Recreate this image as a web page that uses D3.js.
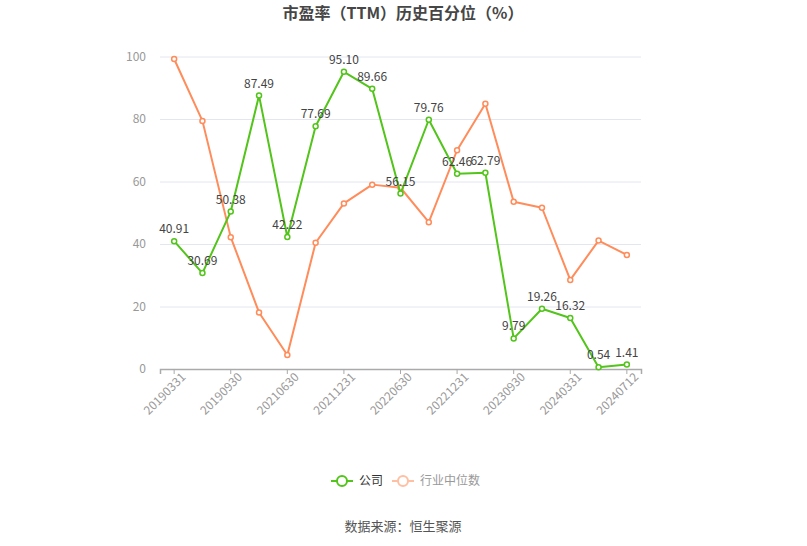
<!DOCTYPE html>
<html><head><meta charset="utf-8">
<script src="https://cdn.jsdelivr.net/npm/d3@7"></script>
<style>body{margin:0;background:#fff}svg{display:block;font-family:"Microsoft YaHei","Noto Sans CJK SC",sans-serif}</style>
</head><body><svg id="c" width="807" height="546"></svg>
<script>
const categories = ["20190331","20190630","20190930","20201231","20210630","20210930","20211231","20220331","20220630","20220930","20221231","20230630","20230930","20231231","20240331","20240630","20240712"];
const companyValues = [40.91,30.69,50.38,87.49,42.22,77.69,95.10,89.66,56.15,79.76,62.46,62.79,9.79,19.26,16.32,0.54,1.41];
const industryValues = [99.2,79.4,42.2,18.1,4.5,40.4,53.0,59.0,58.0,47.0,70.0,84.9,53.5,51.6,28.5,41.1,36.5];
const yTicks = [0,20,40,60,80,100];
const seriesNames = ["公司","行业中位数"];

const svg = d3.select("#c");
const W=807,H=546, L=160, R=641, T=56.5, B=369;
const x = d3.scaleBand().domain(categories).range([L,R]);
const y = d3.scaleLinear().domain([0,100]).range([B,T]);
const cx = d => x(d)+x.bandwidth()/2;

svg.append("text").attr("x",403).attr("y",19).attr("text-anchor","middle")
  .attr("font-size",16).attr("font-weight","bold").attr("fill","#464646").text("市盈率（TTM）历史百分位（%）");

// grid
const gy = svg.append("g").attr("transform",`translate(${L},0)`)
  .call(d3.axisLeft(y).tickValues(yTicks).tickSize(-(R-L)).tickPadding(14));
gy.select(".domain").remove();
gy.selectAll(".tick line").attr("stroke","#e3e6ef");
gy.selectAll(".tick text").attr("fill","#999").attr("font-size",12).attr("font-family","Microsoft YaHei,Noto Sans CJK SC,sans-serif");

// x axis
const shown = categories.filter((d,i)=>i%2===0);
const gx = svg.append("g").attr("transform",`translate(0,${B})`)
  .call(d3.axisBottom(x).tickValues(shown).tickSize(5).tickPadding(4));
gx.select(".domain").attr("stroke","#aaa").attr("stroke-width",1.5);
gx.selectAll(".tick line").attr("stroke","#aaa");
gx.selectAll(".tick text").attr("fill","#999").attr("font-size",12)
  .attr("font-family","Microsoft YaHei,Noto Sans CJK SC,sans-serif")
  .attr("text-anchor","end").attr("dx","0.2em").attr("dy","0.5em").attr("transform","rotate(-45)");

const colors = ["#52c41a","#ff8c5a"];
const series = [companyValues, industryValues];
const line = d3.line().x((d,i)=>cx(categories[i])).y(d=>y(d));

// industry first then company on top
[1,0].forEach(si=>{
  const vals = series[si];
  svg.append("path").attr("d",line(vals)).attr("fill","none").attr("stroke",colors[si]).attr("stroke-width",2).attr("stroke-linejoin","round");
  svg.append("g").selectAll("circle").data(vals).join("circle")
    .attr("cx",(d,i)=>cx(categories[i])).attr("cy",d=>y(d)).attr("r",2.5)
    .attr("fill","#fff").attr("stroke",colors[si]).attr("stroke-width",1.5);
});

svg.append("g").selectAll("text").data(companyValues).join("text")
  .attr("x",(d,i)=>cx(categories[i])).attr("y",d=>y(d)-8)
  .attr("text-anchor","middle").attr("font-size",12).attr("fill","#444")
  .text(d=>d.toFixed(2));

// legend
const lg = svg.append("g");
const legendItems = [{x:331,c:colors[0],tc:"#333",n:seriesNames[0]},{x:392,c:"#ffbfa3",tc:"#999",n:seriesNames[1]}];
legendItems.forEach(it=>{
  lg.append("line").attr("x1",it.x).attr("x2",it.x+22).attr("y1",481).attr("y2",481).attr("stroke",it.c).attr("stroke-width",2);
  lg.append("circle").attr("cx",it.x+11).attr("cy",481).attr("r",5).attr("fill","#fff").attr("stroke",it.c).attr("stroke-width",2);
  lg.append("text").attr("x",it.x+28).attr("y",485).attr("font-size",12).attr("fill",it.tc).text(it.n);
});

svg.append("text").attr("x",403).attr("y",531).attr("text-anchor","middle").attr("font-size",13).attr("fill","#555").text("数据来源：恒生聚源");
</script></body></html>
